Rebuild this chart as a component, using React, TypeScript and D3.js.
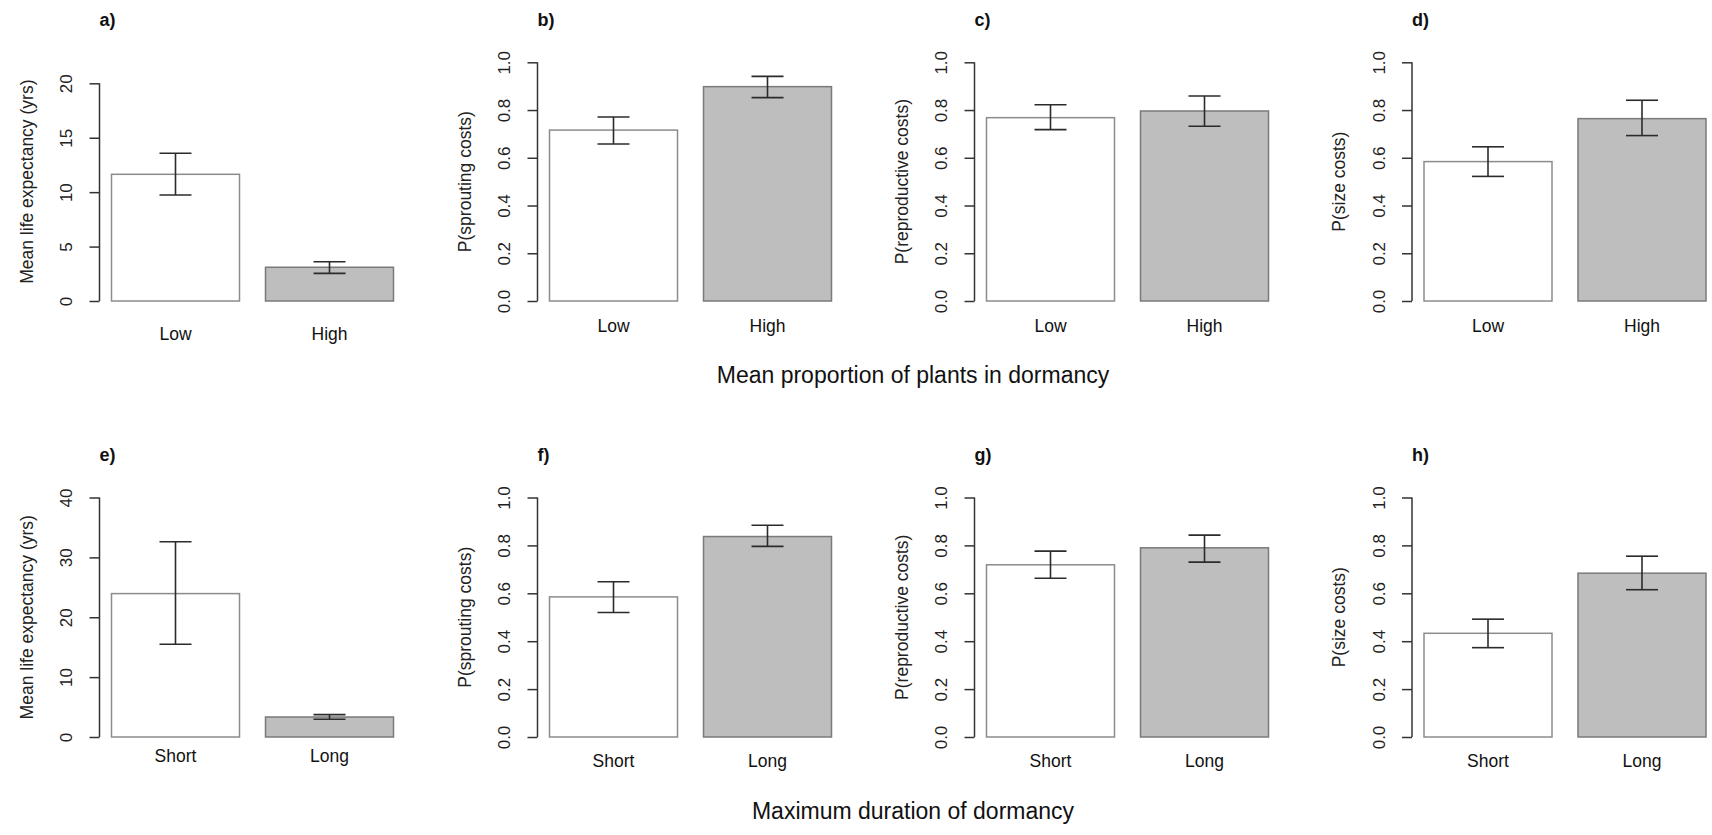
import React, { useEffect, useRef } from 'react';
import * as d3 from 'd3';

// values: bar means and the ends of the error bars
const panelLetters = ['a)', 'b)', 'c)', 'd)', 'e)', 'f)', 'g)', 'h)'];
const rowCategories = [['Low', 'High'], ['Short', 'Long']];
const rowTitles = ['Mean proportion of plants in dormancy', 'Maximum duration of dormancy'];
const yTitles = ['Mean life expectancy (yrs)', 'P(sprouting costs)', 'P(reproductive costs)', 'P(size costs)'];

const means = [
    [11.64, 3.10], [0.716, 0.898], [0.768, 0.796], [0.584, 0.764],
    [23.95, 3.34], [0.585, 0.837], [0.719, 0.790], [0.433, 0.684],
];
const upper = [
    [13.57, 3.61], [0.771, 0.941], [0.822, 0.859], [0.646, 0.841],
    [32.6, 3.73], [0.648, 0.884], [0.776, 0.843], [0.492, 0.755],
];
const lower = [
    [9.74, 2.54], [0.658, 0.852], [0.718, 0.732], [0.522, 0.693],
    [15.5, 2.96], [0.520, 0.796], [0.663, 0.730], [0.373, 0.615],
];

const probTicks = [0, 0.2, 0.4, 0.6, 0.8, 1.0];
const yTicks = [
    [0, 5, 10, 15, 20], probTicks, probTicks, probTicks,
    [0, 10, 20, 30, 40], probTicks, probTicks, probTicks,
];
// top of the plotting region (panel a runs a little past its last tick)
const yMax = [21.93, 1, 1, 1, 40, 1, 1, 1];

// layout
const axisX = [99.5, 537.5, 974.5, 1412];
const rowBottom = [301, 737];
const rowTop = [62.3, 497.5];
const labelDrop = [39, 30.5, 30.5, 30.5, 25, 30, 30, 30];
const titleY = [383, 819];
const letterY = [26, 461];
const font = '"Liberation Sans", Arial, Helvetica, sans-serif';

function App() {
    const svgRef = useRef(null);

    useEffect(() => {
        const svg = d3.select(svgRef.current);
        svg.selectAll('*').remove();

        means.forEach((vals, i) => {
            const row = Math.floor(i / 4);
            const col = i % 4;
            const x0 = axisX[col];
            const cats = rowCategories[row];

            const x = d3.scaleBand()
                .domain(cats)
                .range([x0 + 12, x0 + 294])
                .paddingInner(26 / 154)
                .paddingOuter(0);

            const y = d3.scaleLinear()
                .domain([0, yMax[i]])
                .range([rowBottom[row], rowTop[row]]);

            const g = svg.append('g');

            // bars
            g.selectAll('rect')
                .data(vals)
                .enter()
                .append('rect')
                .attr('x', (d, j) => x(cats[j]))
                .attr('y', d => y(d))
                .attr('width', x.bandwidth())
                .attr('height', d => y(0) - y(d))
                .attr('fill', (d, j) => j === 0 ? '#ffffff' : '#bebebe')
                .attr('stroke', (d, j) => j === 0 ? '#8c8c8c' : '#7a7a7a')
                .attr('stroke-width', 1.5);

            // error bars
            vals.forEach((d, j) => {
                const cx = x(cats[j]) + x.bandwidth() / 2;
                const eg = g.append('g')
                    .attr('stroke', '#2b2b2b')
                    .attr('stroke-width', 1.6);
                eg.append('line')
                    .attr('x1', cx).attr('x2', cx)
                    .attr('y1', y(upper[i][j])).attr('y2', y(lower[i][j]));
                [upper[i][j], lower[i][j]].forEach(v => {
                    eg.append('line')
                        .attr('x1', cx - 16).attr('x2', cx + 16)
                        .attr('y1', y(v)).attr('y2', y(v));
                });
            });

            // y axis, R style with rotated tick labels
            const ticks = yTicks[i];
            const axis = g.append('g')
                .attr('transform', `translate(${x0},0)`)
                .call(d3.axisLeft(y).tickValues(ticks).tickSize(10).tickSizeOuter(0)
                    .tickFormat(ticks[ticks.length - 1] === 1 ? d3.format('.1f') : d3.format('d')));
            axis.select('.domain').remove();
            axis.append('line')
                .attr('y1', y(ticks[0]))
                .attr('y2', y(ticks[ticks.length - 1]))
                .attr('stroke', '#333');
            axis.selectAll('.tick line')
                .attr('stroke', '#333')
                .attr('stroke-width', 1.5);
            axis.selectAll('line').attr('stroke-width', 1.5);
            axis.selectAll('.tick text')
                .attr('transform', 'rotate(-90)')
                .attr('x', 0)
                .attr('y', -27.5)
                .attr('dy', null)
                .attr('text-anchor', 'middle')
                .attr('fill', '#222')
                .attr('font-size', 17)
                .attr('font-family', font);

            // y axis title
            const midY = (rowBottom[row] + rowTop[row]) / 2;
            g.append('text')
                .attr('transform', `translate(${x0 - 67},${midY}) rotate(-90)`)
                .attr('text-anchor', 'middle')
                .attr('font-size', 17.5)
                .attr('font-family', font)
                .attr('fill', '#222')
                .text(yTitles[col]);

            // category labels
            g.selectAll('text.cat')
                .data(cats)
                .enter()
                .append('text')
                .attr('class', 'cat')
                .attr('x', d => x(d) + x.bandwidth() / 2)
                .attr('y', rowBottom[row] + labelDrop[i])
                .attr('text-anchor', 'middle')
                .attr('font-size', 17.5)
                .attr('font-family', font)
                .attr('fill', '#111')
                .text(d => d);

            // panel letter
            g.append('text')
                .attr('x', x0)
                .attr('y', letterY[row])
                .attr('font-size', 18)
                .attr('font-weight', 'bold')
                .attr('font-family', font)
                .attr('fill', '#111')
                .text(panelLetters[i]);
        });

        // row titles
        rowTitles.forEach((t, r) => {
            svg.append('text')
                .attr('x', 913)
                .attr('y', titleY[r])
                .attr('text-anchor', 'middle')
                .attr('font-size', 23)
                .attr('font-family', font)
                .attr('fill', '#111')
                .text(t);
        });
    }, []);

    return (
        <svg
            ref={svgRef}
            width={1712}
            height={835}
            style={{ position: 'absolute', left: 0, top: 0, background: '#fff' }}
        ></svg>
    );
}

export default App;
